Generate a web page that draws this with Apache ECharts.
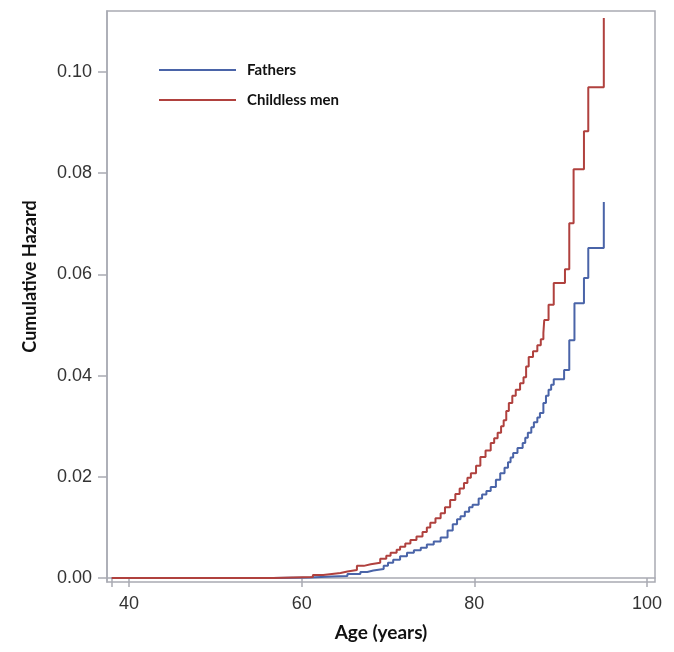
<!DOCTYPE html>
<html>
<head>
<meta charset="utf-8">
<script src="https://cdn.jsdelivr.net/npm/echarts@6/dist/echarts.min.js"></script>
<style>
html,body{margin:0;padding:0;background:#fff;}
#chart{width:674px;height:652px;}
</style>
</head>
<body>
<div id="chart"></div>
<script>
// Fathers (blue): jump ages and cumulative hazard values
var fathersAge = [38, 56.7, 61.0, 63.5, 65.3, 66.8, 67.6, 68.3, 69.5, 70.0, 70.6, 71.4, 72.2, 73.0, 73.8, 74.5, 75.3, 76.1, 76.9, 77.5, 78.0, 78.4, 78.9, 79.4, 79.8, 80.5, 80.9, 81.4, 81.9, 82.5, 83.0, 83.5, 83.9, 84.2, 84.5, 85.0, 85.6, 85.9, 86.2, 86.6, 86.9, 87.3, 87.6, 88.0, 88.3, 88.6, 88.9, 89.2, 90.4, 91.0, 91.6, 92.7, 93.2, 95.0];
var fathersHaz = [0, 0.0001, 0.0003, 0.0004, 0.0008, 0.0012, 0.0015, 0.0018, 0.0024, 0.0030, 0.0036, 0.0043, 0.0050, 0.0055, 0.0060, 0.0066, 0.0072, 0.0080, 0.0094, 0.0106, 0.0116, 0.0122, 0.0131, 0.0140, 0.0145, 0.0157, 0.0165, 0.0172, 0.0180, 0.0194, 0.0207, 0.0218, 0.0229, 0.0238, 0.0247, 0.0257, 0.0267, 0.0277, 0.0287, 0.0298, 0.0308, 0.0317, 0.0326, 0.0346, 0.0360, 0.0372, 0.0382, 0.0393, 0.0411, 0.0470, 0.0543, 0.0593, 0.0652, 0.0743];
// Childless men (red)
var childlessAge = [38, 56.7, 61.3, 62.5, 63.5, 64.5, 65.3, 66.4, 67.2, 68.0, 69.1, 69.8, 70.3, 71.0, 71.4, 72.0, 72.6, 73.3, 74.0, 74.5, 74.9, 75.5, 76.1, 76.6, 77.2, 77.8, 78.3, 78.8, 79.2, 79.6, 80.2, 80.7, 81.3, 81.9, 82.3, 82.7, 83.1, 83.4, 83.7, 84.0, 84.4, 84.8, 85.3, 85.7, 86.0, 86.3, 86.8, 87.3, 87.7, 88.0, 88.1, 88.6, 89.2, 90.5, 91.0, 91.5, 92.7, 93.2, 95.0];
var childlessHaz = [0, 0.0002, 0.0006, 0.0008, 0.0010, 0.0013, 0.0016, 0.0024, 0.0027, 0.0030, 0.0038, 0.0044, 0.0050, 0.0056, 0.0062, 0.0068, 0.0075, 0.0082, 0.0091, 0.0100, 0.0109, 0.0118, 0.0128, 0.0140, 0.0154, 0.0166, 0.0177, 0.0188, 0.0198, 0.0207, 0.0222, 0.0239, 0.0252, 0.0267, 0.0276, 0.0287, 0.0300, 0.0312, 0.0330, 0.0346, 0.0360, 0.0372, 0.0385, 0.0397, 0.0418, 0.0437, 0.0448, 0.0460, 0.0472, 0.0484, 0.0510, 0.0540, 0.0583, 0.0610, 0.0701, 0.0808, 0.0883, 0.0970, 0.1107];
var xTickValues = [38, 40, 60, 80, 100];
var xLabelValues = [40, 60, 80, 100];
var yTickValues = [0, 0.02, 0.04, 0.06, 0.08, 0.10];
var seriesNames = ['Fathers', 'Childless men'];

function pairs(a, b) { return a.map(function (v, i) { return [v, b[i]]; }); }

var gray = '#a9abb3';
var chart = echarts.init(document.getElementById('chart'));
chart.setOption({
  animation: false,
  backgroundColor: '#fff',
  grid: { left: 107, right: 19, top: 11, bottom: 70, show: true, borderColor: gray, borderWidth: 1.5, containLabel: false },
  legend: {
    left: 154, top: 56, orient: 'vertical', itemWidth: 77, itemHeight: 2, itemGap: 12, icon: 'rect',
    data: seriesNames,
    textStyle: { fontFamily: 'Lato', fontWeight: 'bold', fontSize: 15, color: '#111', lineHeight: 18, padding: [0, 0, 0, 6] }
  },
  xAxis: {
    type: 'value', min: 37.45, max: 100.93,
    name: 'Age (years)', nameLocation: 'middle', nameGap: 41,
    nameTextStyle: { fontFamily: 'Lato', fontWeight: 'bold', fontSize: 19, color: '#111' },
    axisLine: { show: true, lineStyle: { color: gray, width: 1.5 } },
    axisTick: { show: true, length: 9, customValues: xTickValues, lineStyle: { color: gray, width: 1.5 } },
    axisLabel: { customValues: xLabelValues, margin: 13, fontFamily: 'Liberation Sans', fontSize: 18, color: '#333' },
    splitLine: { show: false }
  },
  yAxis: {
    type: 'value', min: -0.00079, max: 0.11206,
    name: 'Cumulative Hazard', nameLocation: 'middle', nameGap: 68,
    nameTextStyle: { fontFamily: 'Lato', fontWeight: 'bold', fontSize: 18, color: '#111', padding: [0, 0, 0, 40] },
    axisLine: { show: true, lineStyle: { color: gray, width: 1.5 } },
    axisTick: { show: true, length: 9, customValues: yTickValues, lineStyle: { color: gray, width: 1.5 } },
    axisLabel: { customValues: yTickValues, margin: 15, fontFamily: 'Liberation Sans', fontSize: 18, color: '#333',
      formatter: function (v) { return v.toFixed(2); } },
    splitLine: { show: false }
  },
  series: [
    { name: seriesNames[0], type: 'line', step: 'end', showSymbol: false, symbol: 'none',
      data: pairs(fathersAge, fathersHaz), lineStyle: { color: '#4a64a8', width: 2 }, itemStyle: { color: '#4a64a8' } },
    { name: seriesNames[1], type: 'line', step: 'end', showSymbol: false, symbol: 'none',
      data: pairs(childlessAge, childlessHaz), lineStyle: { color: '#b0413e', width: 2 }, itemStyle: { color: '#b0413e' } }
  ]
});
</script>
</body>
</html>
